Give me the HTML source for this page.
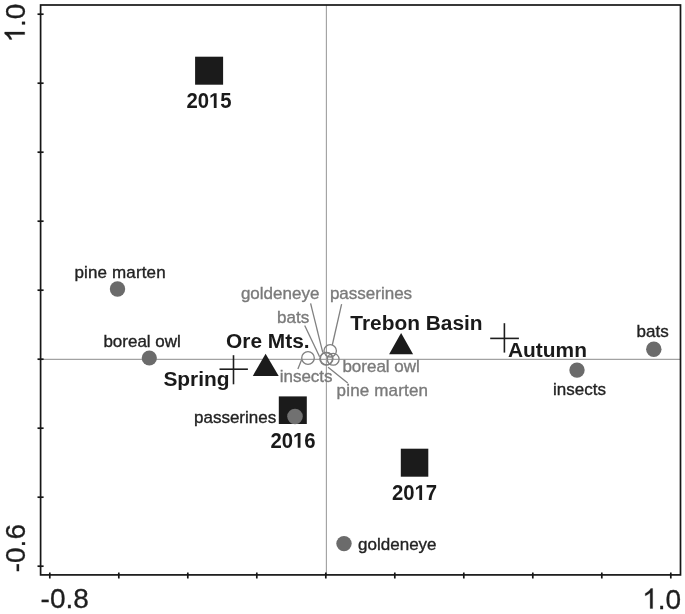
<!DOCTYPE html>
<html><head><meta charset="utf-8">
<style>
html,body{margin:0;padding:0;background:#fff;}
body{width:685px;height:614px;overflow:hidden;}
svg{display:block;filter:grayscale(1);font-family:"Liberation Sans",sans-serif;}
.ax{font-size:28px;fill:#1e1e1e;stroke:#1e1e1e;stroke-width:0.3px;}
.one{fill:#1e1e1e;stroke:#1e1e1e;stroke-width:21;}
.b{font-size:20.9px;font-weight:bold;fill:#1a1a1a;}
.y{font-size:20.3px;}
.b1{fill:#1a1a1a;}
.r{font-size:17px;fill:#222;stroke:#222;stroke-width:0.35px;}
.g{font-size:17px;fill:#7a7a7a;stroke:#7a7a7a;stroke-width:0.35px;}
</style></head>
<body>
<svg width="685" height="614" viewBox="0 0 685 614">
<rect x="0" y="0" width="685" height="614" fill="#fff"/>
<!-- zero lines -->
<line x1="326.4" y1="5" x2="326.4" y2="575.5" stroke="#a2a2a2" stroke-width="1.15"/>
<line x1="40.5" y1="359.3" x2="680.5" y2="359.3" stroke="#a2a2a2" stroke-width="1.15"/>
<!-- frame -->
<rect x="40.6" y="5" width="639.9" height="569.9" fill="none" stroke="#161616" stroke-width="1.7"/>
<!-- ticks -->
<g stroke="#161616" stroke-width="1.7">
<line x1="37.5" y1="14.2" x2="43.6" y2="14.2"/>
<line x1="37.5" y1="83.2" x2="43.6" y2="83.2"/>
<line x1="37.5" y1="152.2" x2="43.6" y2="152.2"/>
<line x1="37.5" y1="221.2" x2="43.6" y2="221.2"/>
<line x1="37.5" y1="290.2" x2="43.6" y2="290.2"/>
<line x1="37.5" y1="359.2" x2="43.6" y2="359.2"/>
<line x1="37.5" y1="428.2" x2="43.6" y2="428.2"/>
<line x1="37.5" y1="497.2" x2="43.6" y2="497.2"/>
<line x1="37.5" y1="566.2" x2="43.6" y2="566.2"/>
<line x1="49.8" y1="572.5" x2="49.8" y2="578.5"/>
<line x1="118.8" y1="572.5" x2="118.8" y2="578.5"/>
<line x1="187.8" y1="572.5" x2="187.8" y2="578.5"/>
<line x1="256.8" y1="572.5" x2="256.8" y2="578.5"/>
<line x1="325.8" y1="572.5" x2="325.8" y2="578.5"/>
<line x1="394.8" y1="572.5" x2="394.8" y2="578.5"/>
<line x1="463.8" y1="572.5" x2="463.8" y2="578.5"/>
<line x1="532.8" y1="572.5" x2="532.8" y2="578.5"/>
<line x1="601.8" y1="572.5" x2="601.8" y2="578.5"/>
<line x1="670.8" y1="572.5" x2="670.8" y2="578.5"/>
</g>
<!-- axis labels -->
<text class="ax" x="40.6" y="608.3">-0.8</text>
<g transform="translate(642.2,608.5)"><path class="one" d="M763 0L583 0L583 1147Q518 1085 412 1023Q306 961 223 930L223 1104Q342 1160 459 1260Q576 1360 625 1466L763 1466Z" transform="scale(0.013672,-0.013672)"/><text class="ax" x="15.57" y="0">.0</text></g>
<g transform="translate(24.7,42.5) rotate(-90)"><path class="one" d="M763 0L583 0L583 1147Q518 1085 412 1023Q306 961 223 930L223 1104Q342 1160 459 1260Q576 1360 625 1466L763 1466Z" transform="scale(0.013672,-0.013672)"/><text class="ax" x="15.57" y="0">.0</text></g>
<text class="ax" transform="translate(24.7,572.3) rotate(-90)">-0.6</text>

<!-- squares (years) -->
<g fill="#1b1b1b">
<rect x="195.1" y="56.7" width="28" height="28"/>
<rect x="278.8" y="396.4" width="28" height="27.6"/>
<rect x="400.8" y="448.7" width="27.5" height="28"/>
</g>
<g transform="translate(186.5,107.9) scale(1,1.05)"><text class="b y">20<tspan dx="11.29">5</tspan></text><path class="b1" d="M478 0L478 1170L140 959L140 1180L493 1409L759 1409L759 0Z" transform="translate(22.57,0) scale(0.009912,-0.009912)"/></g>
<g transform="translate(270.4,447.65) scale(1,1.05)"><text class="b y">20<tspan dx="11.29">6</tspan></text><path class="b1" d="M478 0L478 1170L140 959L140 1180L493 1409L759 1409L759 0Z" transform="translate(22.57,0) scale(0.009912,-0.009912)"/></g>
<g transform="translate(392,500) scale(1,1.05)"><text class="b y">20<tspan dx="11.29">7</tspan></text><path class="b1" d="M478 0L478 1170L140 959L140 1180L493 1409L759 1409L759 0Z" transform="translate(22.57,0) scale(0.009912,-0.009912)"/></g>

<!-- triangles -->
<polygon points="265.6,353.7 278.7,375.9 252.8,375.9" fill="#1b1b1b"/>
<polygon points="401.1,332.9 413.1,354.3 389.1,354.3" fill="#1b1b1b"/>
<text class="b" x="226" y="347.9">Ore Mts.</text>
<text class="b" x="350.3" y="329.9">Trebon Basin</text>

<!-- crosses -->
<g stroke="#1e1e1e" stroke-width="1.6">
<line x1="219.5" y1="369.2" x2="247.9" y2="369.2"/>
<line x1="233.5" y1="355.2" x2="233.5" y2="384.3"/>
<line x1="490.2" y1="338.4" x2="518.9" y2="338.4"/>
<line x1="504.4" y1="323.2" x2="504.4" y2="352.6"/>
</g>
<text class="b" x="163.4" y="386.2">Spring</text>
<text class="b" x="508" y="357.1">Autumn</text>

<!-- filled dots (species by ...) -->
<g fill="#6b6b6b">
<circle cx="117.5" cy="289" r="7.7"/>
<circle cx="149.3" cy="358" r="7.6"/>
<circle cx="653.8" cy="349.2" r="7.7"/>
<circle cx="577" cy="370.1" r="7.7"/>
<circle cx="344" cy="543.6" r="7.7"/>
</g>
<circle cx="295" cy="416.5" r="7.8" fill="#717171"/>
<text class="r" x="74.4" y="278" textLength="91.3">pine marten</text>
<text class="r" x="103.4" y="347.4">boreal owl</text>
<text class="r" x="636.6" y="336.9">bats</text>
<text class="r" x="553.1" y="394.9">insects</text>
<text class="r" x="358.1" y="549.7">goldeneye</text>
<text class="r" x="194" y="422.6">passerines</text>

<!-- open circles (center cluster) -->
<g fill="none" stroke="#808080" stroke-width="1.3">
<circle cx="308" cy="358" r="6.3"/>
<circle cx="330.2" cy="350.8" r="6.2"/>
<circle cx="326.1" cy="358.8" r="6.3"/>
<circle cx="326.7" cy="358.6" r="6.3"/>
<circle cx="333.2" cy="359.3" r="5.9"/>
<!-- leader lines -->
<line x1="310.6" y1="303.3" x2="322.8" y2="352.6"/>
<line x1="304.7" y1="325.5" x2="319.6" y2="356.8"/>
<line x1="341.6" y1="304.2" x2="332.3" y2="345"/>
<line x1="301.5" y1="360" x2="297.9" y2="368.9"/>
<line x1="328.1" y1="367.2" x2="347.7" y2="383.1"/>
</g>
<text class="g" x="240.9" y="299.2">goldeneye</text>
<text class="g" x="277.1" y="322.6">bats</text>
<text class="g" x="329.9" y="298.8">passerines</text>
<text class="g" x="279.7" y="381.6">insects</text>
<text class="g" x="342.4" y="372.4">boreal owl</text>
<text class="g" x="336.6" y="396" textLength="91.4">pine marten</text>
</svg>
</body></html>
